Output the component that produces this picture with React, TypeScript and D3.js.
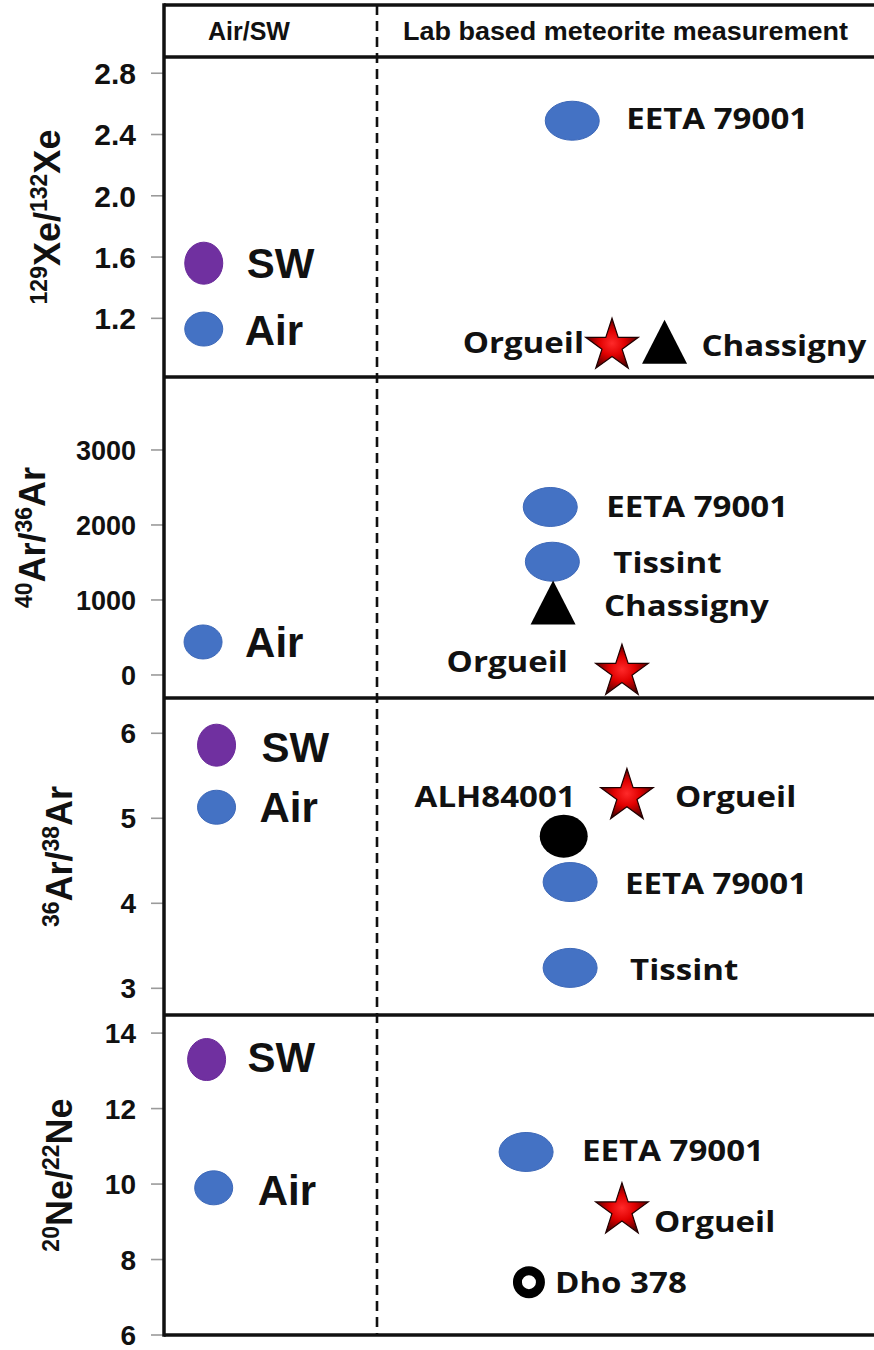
import React from "react";
import * as d3 from "d3";

const W = 874;
const H = 1350;

// Column headers
const headerLeft = "Air/SW";
const headerRight = "Lab based meteorite measurement";

// Tick values for each panel
const xeTicks = [1.2, 1.6, 2.0, 2.4, 2.8];
const ar4036Ticks = [0, 1000, 2000, 3000];
const ar3638Ticks = [3, 4, 5, 6];
const neTicks = [6, 8, 10, 12, 14];

// 129Xe/132Xe
const xeNames = ["SW", "Air", "EETA 79001", "Orgueil", "Chassigny"];
const xePos = [0.056, 0.056, 0.575, 0.631, 0.705];
const xeValues = [1.56, 1.13, 2.49, 1.02, 1.0];
const xeKinds = ["sw", "air", "mars", "star", "tri"];

// 40Ar/36Ar
const ar4036Names = ["Air", "EETA 79001", "Tissint", "Chassigny", "Orgueil"];
const ar4036Pos = [0.055, 0.544, 0.547, 0.548, 0.645];
const ar4036Values = [440, 2240, 1510, 870, 40];
const ar4036Kinds = ["air", "mars", "mars", "tri", "star"];

// 36Ar/38Ar
const ar3638Names = ["SW", "Air", "Orgueil", "ALH84001", "EETA 79001", "Tissint"];
const ar3638Pos = [0.074, 0.074, 0.652, 0.563, 0.572, 0.572];
const ar3638Values = [5.86, 5.13, 5.26, 4.79, 4.25, 3.24];
const ar3638Kinds = ["sw", "air", "star", "dot", "mars", "mars"];

// 20Ne/22Ne
const neNames = ["SW", "Air", "EETA 79001", "Orgueil", "Dho 378"];
const nePos = [0.06, 0.07, 0.51, 0.645, 0.514];
const neValues = [13.3, 9.9, 10.85, 9.3, 7.4];
const neKinds = ["sw", "air", "mars", "star", "ring"];

// Label placement relative to each marker: [dx, dy, anchor]
type Place = [number, number, "start" | "end"];
const xePlace: Place[] = [[43, 0, "start"], [41, 1, "start"], [54, -2, "start"], [-28, -3, "end"], [37, -3, "start"]];
const ar4036Place: Place[] = [[42, 0, "start"], [56, 0, "start"], [61, 1, "start"], [51, -4, "start"], [-54, -10, "end"]];
const ar3638Place: Place[] = [[45, 2, "start"], [43, 0, "start"], [48, 1, "start"], [12, -39, "end"], [55, 2, "start"], [60, 2, "start"]];
const nePlace: Place[] = [[41, -3, "start"], [44, 2, "start"], [56, -1, "start"], [32, 12, "start"], [26, 1, "start"]];

interface Panel {
  names: string[];
  pos: number[];
  values: number[];
  kinds: string[];
  place: Place[];
  ticks: number[];
  fmt: (v: number) => string;
  top: number;
  bottom: number;
  domain: [number, number];
  sup1: string;
  main1: string;
  sup2: string;
  main2: string;
  titleX: number;
  tickSize: number;
}

const left = 164;
const right = 874;
const divider = 377;
const topY = 5;
const headerY = 57;

const panels: Panel[] = [
  {
    names: xeNames, pos: xePos, values: xeValues, kinds: xeKinds, place: xePlace,
    ticks: xeTicks, fmt: d3.format(".1f"), top: 57, bottom: 377, domain: [0.817, 2.906],
    sup1: "129", main1: "Xe/", sup2: "132", main2: "Xe", titleX: 60, tickSize: 30,
  },
  {
    names: ar4036Names, pos: ar4036Pos, values: ar4036Values, kinds: ar4036Kinds, place: ar4036Place,
    ticks: ar4036Ticks, fmt: d3.format("d"), top: 377, bottom: 698, domain: [-307, 3973],
    sup1: "40", main1: "Ar/", sup2: "36", main2: "Ar", titleX: 45, tickSize: 27,
  },
  {
    names: ar3638Names, pos: ar3638Pos, values: ar3638Values, kinds: ar3638Kinds, place: ar3638Place,
    ticks: ar3638Ticks, fmt: d3.format("d"), top: 698, bottom: 1015, domain: [2.686, 6.415],
    sup1: "36", main1: "Ar/", sup2: "38", main2: "Ar", titleX: 72, tickSize: 28,
  },
  {
    names: neNames, pos: nePos, values: neValues, kinds: neKinds, place: nePlace,
    ticks: neTicks, fmt: d3.format("d"), top: 1015, bottom: 1335, domain: [6, 14.48],
    sup1: "20", main1: "Ne/", sup2: "22", main2: "Ne", titleX: 72, tickSize: 28,
  },
];

const x = d3.scaleLinear().domain([0, 1]).range([left, right]);

const BLUE = "#4472C4";
const PURPLE = "#7030A0";
const ARIAL = "'Liberation Sans', Arial, sans-serif";
const LABEL_FONT = "'Open Sans', 'Noto Sans', sans-serif";

const starPath = d3.symbol().type(d3.symbolStar).size(860)() as string;

// Upward triangle centred on its centroid
function trianglePath(w: number, h: number): string {
  const p = d3.path();
  p.moveTo(0, (-2 * h) / 3);
  p.lineTo(w / 2, h / 3);
  p.lineTo(-w / 2, h / 3);
  p.closePath();
  return p.toString();
}
const triPath = trianglePath(45, 44);

function Marker({ kind, cx, cy }: { kind: string; cx: number; cy: number }) {
  switch (kind) {
    case "sw":
      return <ellipse cx={cx} cy={cy} rx={19} ry={21} fill={PURPLE} stroke="#6a2a9a" strokeWidth={1} />;
    case "air":
      return <ellipse cx={cx} cy={cy} rx={19} ry={17} fill={BLUE} stroke="#3d68b8" strokeWidth={1} />;
    case "mars":
      return <ellipse cx={cx} cy={cy} rx={27} ry={19.5} fill={BLUE} stroke="#3d68b8" strokeWidth={1} />;
    case "dot":
      return <ellipse cx={cx} cy={cy} rx={24} ry={21.5} fill="#000" />;
    case "ring":
      return <circle cx={cx} cy={cy} r={11.5} fill="#fff" stroke="#000" strokeWidth={9} />;
    case "star":
      return (
        <path d={starPath} transform={`translate(${cx},${cy})`} fill="url(#starFill)" stroke="#200000" strokeWidth={1.2} />
      );
    case "tri":
      return <path d={triPath} transform={`translate(${cx},${cy})`} fill="#000" />;
    default:
      return null;
  }
}

function PanelView({ p }: { p: Panel }) {
  const y = d3.scaleLinear().domain(p.domain).range([p.bottom, p.top]);
  const titleY = (p.top + p.bottom) / 2;
  return (
    <g>
      {/* ticks */}
      {p.ticks.map((t) => (
        <g key={t}>
          <line x1={151} x2={left} y1={y(t)} y2={y(t)} stroke="#9a9a9a" strokeWidth={1.6} />
          <text
            x={136}
            y={y(t) + p.tickSize * 0.36}
            textAnchor="end"
            fontFamily={ARIAL}
            fontWeight="bold"
            fontSize={p.tickSize}
            fill="#111"
          >
            {p.fmt(t)}
          </text>
        </g>
      ))}
      {/* axis title */}
      <text
        transform={`translate(${p.titleX},${titleY}) rotate(-90)`}
        textAnchor="middle"
        fontFamily={ARIAL}
        fontWeight="bold"
        fontSize={36}
        fill="#111"
      >
        <tspan fontSize={23} dy={-13}>{p.sup1}</tspan>
        <tspan dy={13}>{p.main1}</tspan>
        <tspan fontSize={23} dy={-13}>{p.sup2}</tspan>
        <tspan dy={13}>{p.main2}</tspan>
      </text>
      {/* markers and labels */}
      {p.names.map((name, i) => {
        const cx = x(p.pos[i]);
        const cy = y(p.values[i]);
        const [dx, dy, anchor] = p.place[i];
        const isRef = name === "SW" || name === "Air";
        return (
          <g key={name}>
            <Marker kind={p.kinds[i]} cx={cx} cy={cy} />
            {isRef ? (
              <text
                x={cx + dx}
                y={cy + dy + 15}
                textAnchor={anchor}
                fontFamily={ARIAL}
                fontWeight="bold"
                fontSize={42}
                fill="#111"
              >
                {name}
              </text>
            ) : (
              <text
                transform={`translate(${cx + dx},${cy + dy + 10}) scale(1.18,1)`}
                textAnchor={anchor}
                fontFamily={LABEL_FONT}
                fontWeight={700}
                fontSize={28}
                fill="#111"
              >
                {name}
              </text>
            )}
          </g>
        );
      })}
    </g>
  );
}

export default function App() {
  return (
    <svg width={W} height={H} style={{ display: "block", position: "absolute", left: 0, top: 0, background: "#fff" }}>
      <defs>
        <radialGradient id="starFill" cx="50%" cy="50%" r="55%">
          <stop offset="0%" stopColor="#ff2a2a" />
          <stop offset="45%" stopColor="#e00000" />
          <stop offset="80%" stopColor="#7a0000" />
          <stop offset="100%" stopColor="#2a0000" />
        </radialGradient>
      </defs>
      <rect x={0} y={0} width={W} height={H} fill="#fff" />

      {/* header */}
      <text x={208} y={40} fontFamily={ARIAL} fontWeight="bold" fontSize={25} fill="#111">
        {headerLeft}
      </text>
      <text x={403} y={40} fontFamily={ARIAL} fontWeight="bold" fontSize={25} fill="#111" textLength={445} lengthAdjust="spacingAndGlyphs">
        {headerRight}
      </text>

      {panels.map((p, i) => (
        <PanelView key={i} p={p} />
      ))}

      {/* frame */}
      <line x1={divider} x2={divider} y1={topY} y2={1335} stroke="#111" strokeWidth={2.6} strokeDasharray="10 6" />
      <line x1={left} x2={right} y1={topY} y2={topY} stroke="#111" strokeWidth={3.5} />
      <line x1={left} x2={right} y1={headerY} y2={headerY} stroke="#111" strokeWidth={3.5} />
      {panels.map((p, i) => (
        <line key={i} x1={left} x2={right} y1={p.bottom} y2={p.bottom} stroke="#111" strokeWidth={3.5} />
      ))}
      <line x1={left} x2={left} y1={topY - 1.75} y2={1336.75} stroke="#111" strokeWidth={3.5} />
    </svg>
  );
}
